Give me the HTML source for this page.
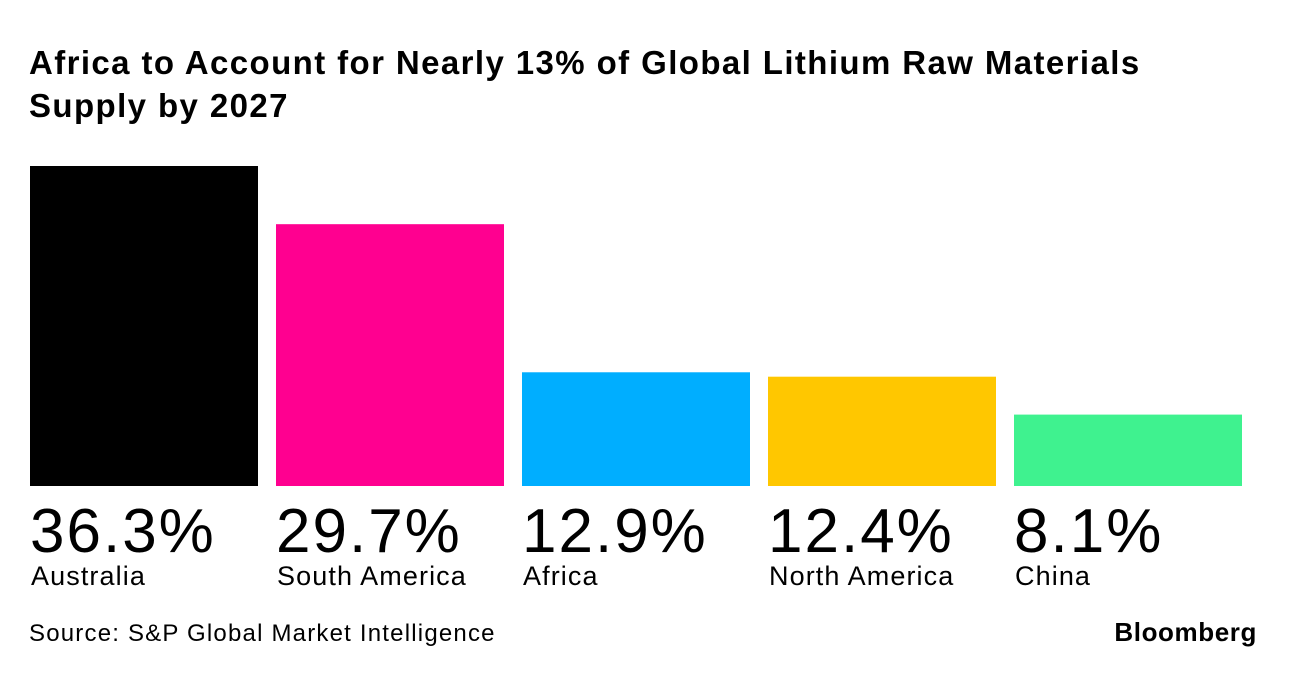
<!DOCTYPE html>
<html><head><meta charset="utf-8"><style>
body{margin:0;width:1296px;height:676px;background:#fff;font-family:"Liberation Sans",sans-serif;overflow:hidden;position:relative}
.t{position:absolute;left:29px;top:41px;font-size:33px;font-weight:bold;line-height:43px;letter-spacing:1.4px;color:#000}
.src{position:absolute;left:29px;top:620px;font-size:24px;letter-spacing:1.2px;color:#000}
.logo{position:absolute;right:39px;top:617px;font-size:26px;font-weight:bold;letter-spacing:0.6px}
</style></head><body>
<div class="t">Africa to Account for Nearly 13% of Global Lithium Raw Materials<br>Supply by 2027</div>
<svg id="c" width="1296" height="676" style="position:absolute;left:0;top:0"></svg>
<div class="src">Source: S&amp;P Global Market Intelligence</div>
<div class="logo">Bloomberg</div>
<script>
const categories=["Australia","South America","Africa","North America","China"];
const values=[36.3,29.7,12.9,12.4,8.1];
const valueLabels=["36.3%","29.7%","12.9%","12.4%","8.1%"];
const colors=["#000000","#ff0090","#00aeff","#ffc700","#3ff28f"];
const svg=document.getElementById('c');const ns="http://www.w3.org/2000/svg";
const base=486,scale=320/36.3,x0=30,bw=228,step=246;
const y=v=>base-v*scale;
categories.forEach((c,i)=>{
 const r=document.createElementNS(ns,'rect');
 r.setAttribute('x',x0+i*step);r.setAttribute('y',y(values[i]));r.setAttribute('width',bw);r.setAttribute('height',base-y(values[i]));r.setAttribute('fill',colors[i]);
 
 
 svg.appendChild(r);
 const v=document.createElementNS(ns,'text');
 v.setAttribute('x',x0+i*step);v.setAttribute('y',552);v.setAttribute('font-size','62');v.setAttribute('letter-spacing','2');v.setAttribute('font-family','Liberation Sans, sans-serif');v.textContent=valueLabels[i];
 
 
 svg.appendChild(v);
 const l=document.createElementNS(ns,'text');
 l.setAttribute('x',x0+i*step+1);l.setAttribute('y',585);l.setAttribute('font-size','27');l.setAttribute('letter-spacing','1.1');l.setAttribute('font-family','Liberation Sans, sans-serif');l.textContent=c;
 
 
 svg.appendChild(l);
});
</script>
</body></html>
